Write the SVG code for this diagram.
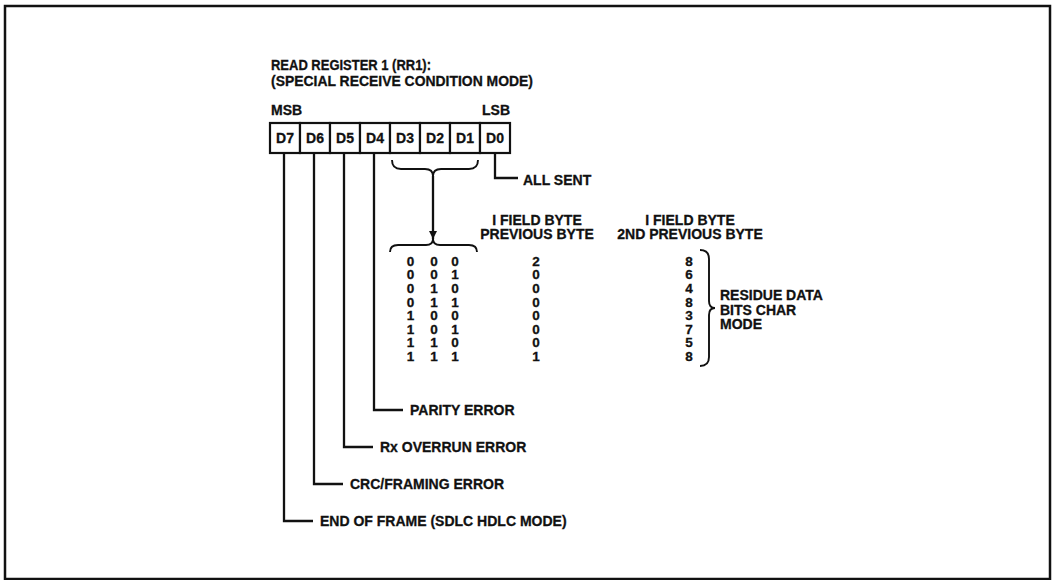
<svg xmlns="http://www.w3.org/2000/svg" width="1055" height="580" viewBox="0 0 1055 580">
<style>
text{font-family:"Liberation Sans",Arial,Helvetica,sans-serif;font-weight:bold;fill:#111;stroke:#111;stroke-width:0.3;}
.lbl{font-size:14px;}
.num{font-size:13.5px;text-anchor:middle;}
.mid{text-anchor:middle;}
.box{fill:#fff;stroke:#111;stroke-width:2.2;}
.ln{fill:none;stroke:#111;stroke-width:2.3;}
.br{fill:none;stroke:#111;stroke-width:1.9;}
</style>
<defs>
<marker id="ah" viewBox="0 0 10 10" refX="10" refY="5" markerWidth="12" markerHeight="8" markerUnits="userSpaceOnUse" orient="auto">
<path d="M0,0 L10,5 L0,10 Z" fill="#111"/>
</marker>
</defs>
<rect x="5" y="6" width="1045" height="573" fill="#fff" stroke="#111" stroke-width="2.5"/>

<g id="title">
<text class="lbl" x="271" y="70" textLength="160" lengthAdjust="spacingAndGlyphs">READ REGISTER 1 (RR1):</text>
<text class="lbl" x="271" y="86" textLength="262" lengthAdjust="spacingAndGlyphs">(SPECIAL RECEIVE CONDITION MODE)</text>
<text class="lbl" x="271" y="115">MSB</text>
<text class="lbl" x="510" y="115" text-anchor="end">LSB</text>
</g>

<g id="register">
<g id="d7"><rect class="box" x="270" y="123" width="30" height="30"/><text class="lbl mid" x="285" y="143">D7</text></g>
<g id="d6"><rect class="box" x="300" y="123" width="30" height="30"/><text class="lbl mid" x="315" y="143">D6</text></g>
<g id="d5"><rect class="box" x="330" y="123" width="30" height="30"/><text class="lbl mid" x="345" y="143">D5</text></g>
<g id="d4"><rect class="box" x="360" y="123" width="30" height="30"/><text class="lbl mid" x="375" y="143">D4</text></g>
<g id="d3"><rect class="box" x="390" y="123" width="30" height="30"/><text class="lbl mid" x="405" y="143">D3</text></g>
<g id="d2"><rect class="box" x="420" y="123" width="30" height="30"/><text class="lbl mid" x="435" y="143">D2</text></g>
<g id="d1"><rect class="box" x="450" y="123" width="30" height="30"/><text class="lbl mid" x="465" y="143">D1</text></g>
<g id="d0"><rect class="box" x="480" y="123" width="30" height="30"/><text class="lbl mid" x="495" y="143">D0</text></g>
</g>

<g id="connectors">
<path class="ln" d="M495,153 V178 H518"/>
<path class="ln" d="M374,153 V410 H403"/>
<path class="ln" d="M344,153 V447 H373"/>
<path class="ln" d="M314,153 V484 H343"/>
<path class="ln" d="M284,153 V521 H313"/>
<path class="br" d="M392,160 Q392,169 401,169 L425,169 Q433,169 433,176 Q433,169 441,169 L469,169 Q478,169 478,160"/>
<path class="ln" d="M433,176 V239" marker-end="url(#ah)"/>
<path class="br" d="M390,252 Q390,245 398,245 L426,245 Q433,245 433,239 Q433,245 440,245 L469,245 Q477,245 477,252"/>
<path class="br" d="M700,250 Q709,250 709,259 L709,301 Q709,308 715,308 Q709,308 709,315 L709,357 Q709,366 700,366"/>
</g>

<g id="labels">
<text class="lbl" x="523" y="185">ALL SENT</text>
<text class="lbl" x="410" y="415">PARITY ERROR</text>
<text class="lbl" x="380" y="452">Rx OVERRUN ERROR</text>
<text class="lbl" x="350" y="489">CRC/FRAMING ERROR</text>
<text class="lbl" x="320" y="526">END OF FRAME (SDLC HDLC MODE)</text>
</g>

<g id="header-prev">
<text class="lbl mid" x="537" y="225">I FIELD BYTE</text>
<text class="lbl mid" x="537" y="239">PREVIOUS BYTE</text>
</g>
<g id="header-2nd">
<text class="lbl mid" x="690" y="225">I FIELD BYTE</text>
<text class="lbl mid" x="690" y="239">2ND PREVIOUS BYTE</text>
</g>

<g id="table">
<text class="num" x="410.5" y="265.5">0</text><text class="num" x="434" y="265.5">0</text><text class="num" x="455" y="265.5">0</text><text class="num" x="536" y="265.5">2</text><text class="num" x="689" y="265.5">8</text>
<text class="num" x="410.5" y="279.2">0</text><text class="num" x="434" y="279.2">0</text><text class="num" x="455" y="279.2">1</text><text class="num" x="536" y="279.2">0</text><text class="num" x="689" y="279.2">6</text>
<text class="num" x="410.5" y="292.8">0</text><text class="num" x="434" y="292.8">1</text><text class="num" x="455" y="292.8">0</text><text class="num" x="536" y="292.8">0</text><text class="num" x="689" y="292.8">4</text>
<text class="num" x="410.5" y="306.5">0</text><text class="num" x="434" y="306.5">1</text><text class="num" x="455" y="306.5">1</text><text class="num" x="536" y="306.5">0</text><text class="num" x="689" y="306.5">8</text>
<text class="num" x="410.5" y="320.1">1</text><text class="num" x="434" y="320.1">0</text><text class="num" x="455" y="320.1">0</text><text class="num" x="536" y="320.1">0</text><text class="num" x="689" y="320.1">3</text>
<text class="num" x="410.5" y="333.8">1</text><text class="num" x="434" y="333.8">0</text><text class="num" x="455" y="333.8">1</text><text class="num" x="536" y="333.8">0</text><text class="num" x="689" y="333.8">7</text>
<text class="num" x="410.5" y="347.4">1</text><text class="num" x="434" y="347.4">1</text><text class="num" x="455" y="347.4">0</text><text class="num" x="536" y="347.4">0</text><text class="num" x="689" y="347.4">5</text>
<text class="num" x="410.5" y="361.1">1</text><text class="num" x="434" y="361.1">1</text><text class="num" x="455" y="361.1">1</text><text class="num" x="536" y="361.1">1</text><text class="num" x="689" y="361.1">8</text>
</g>

<g id="residue">
<text class="lbl" x="720" y="300">RESIDUE DATA</text>
<text class="lbl" x="720" y="314.5">BITS CHAR</text>
<text class="lbl" x="720" y="329">MODE</text>
</g>
</svg>
